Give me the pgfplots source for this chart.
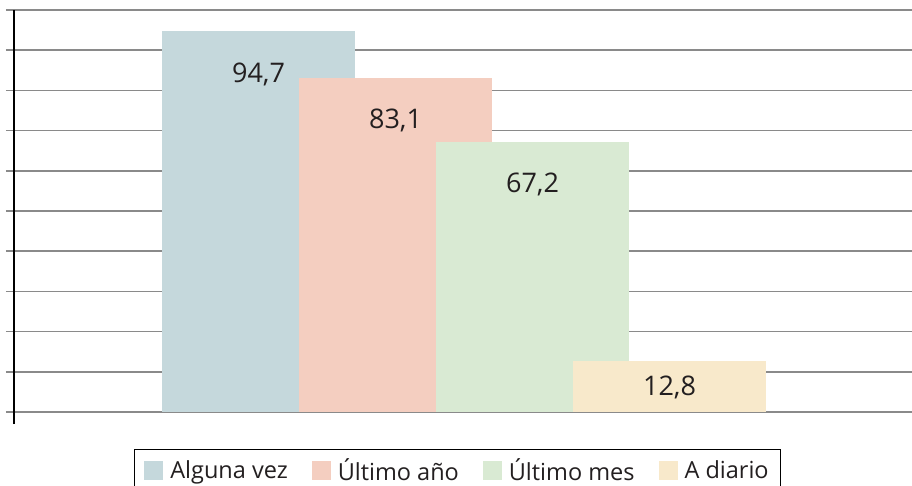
\documentclass[border=0pt]{standalone}
\usepackage{pgfplots}
\pgfplotsset{compat=1.18}
\usepackage{fontspec}
\setmainfont{Open Sans}
\definecolor{cA}{HTML}{C5D8DC}
\definecolor{cB}{HTML}{F4CEC0}
\definecolor{cC}{HTML}{D9EAD3}
\definecolor{cD}{HTML}{F8E9CB}
\definecolor{txt}{HTML}{231F20}
\definecolor{grd}{HTML}{8A8A8A}
\begin{document}
\begin{tikzpicture}
\clip (0bp,0bp) rectangle (912bp,486bp);
\begin{axis}[
  at={(14bp,61.94bp)}, anchor=south west,
  scale only axis, width=898bp, height=414.06bp,
  xmin=-1.785, xmax=4.770, ymin=-3, ymax=100,
  axis x line=none, axis y line=left,
  y axis line style={-, black, line width=1.3bp},
  ytick={0,10,...,100}, yticklabels={},
  tick align=outside, major tick length=8bp,
  ytick style={grd, line width=1.5bp},
  ymajorgrids, major grid style={grd, line width=1.5bp},
  ybar, bar width=1.409, bar shift=0pt,
  /pgf/number format/.cd, use comma, fixed, fixed zerofill, precision=1, assume math mode=true,
  /pgfplots/.cd,
  nodes near coords,
  every node near coord/.append style={anchor=center, yshift=-43bp, text=txt,
    font=\fontsize{27bp}{32bp}\selectfont},
  legend columns=4,
  legend style={at={(axis description cs:0.4939,-0.0602)}, anchor=north,
    draw=black, line width=1bp, text=txt, inner xsep=10bp, inner ysep=7bp,
    font=\fontsize{23.5bp}{28bp}\selectfont,
    /tikz/every odd column/.append style={column sep=5bp},
    /tikz/every even column/.append style={column sep=22bp}},
  legend image code/.code={\fill[#1] (0bp,-9.5bp) rectangle (19bp,9.5bp);},
]
\addplot[fill=cA, draw=none] coordinates {(0,94.7)};
\addplot[fill=cB, draw=none] coordinates {(1,83.1)};
\addplot[fill=cC, draw=none] coordinates {(2,67.2)};
\addplot[fill=cD, draw=none, every node near coord/.append style={yshift=16bp}] coordinates {(3,12.8)};
\legend{Alguna vez, Último año, Último mes, A diario}
\end{axis}
\end{tikzpicture}
\end{document}
